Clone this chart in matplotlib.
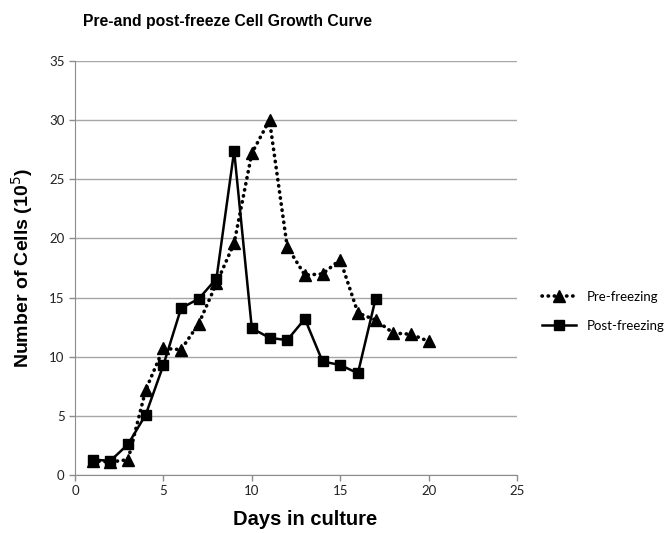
import matplotlib.pyplot as plt

# ── Data ─────────────────────────────────────────────────────────────────────
days_pre = [1, 2, 3, 4, 5, 6, 7, 8, 9, 10, 11, 12, 13, 14, 15, 16, 17, 18, 19, 20]
cells_pre = [1.2, 1.1, 1.3, 7.2, 10.7, 10.6, 12.8, 16.2, 19.6, 27.2, 30.0,
             19.3, 16.9, 17.0, 18.2, 13.7, 13.1, 12.0, 11.9, 11.3]

days_post = [1, 2, 3, 4, 5, 6, 7, 8, 9, 10, 11, 12, 13, 14, 15, 16, 17]
cells_post = [1.3, 1.2, 2.6, 5.1, 9.3, 14.1, 14.9, 16.6, 27.4, 12.4, 11.6,
              11.4, 13.2, 9.6, 9.3, 8.6, 14.9]

x_ticks = [0, 5, 10, 15, 20, 25]
y_ticks = [0, 5, 10, 15, 20, 25, 30, 35]

plt.rcParams["font.family"] = ["Liberation Sans", "DejaVu Sans"]
TICK_FONT = ["Lato", "DejaVu Sans"]

fig = plt.figure(figsize=(6.65, 5.33), dpi=100)
ax = fig.add_axes([0.1128, 0.1088, 0.6647, 0.7768])

ax.plot(days_pre, cells_pre, color="black", lw=2.6,
        linestyle=(0, (0.1, 1.6)), dash_capstyle="round",
        marker="^", markersize=9, label="Pre-freezing", zorder=3)
ax.plot(days_post, cells_post, color="black", lw=1.8, linestyle="-",
        marker="s", markersize=7.5, label="Post-freezing", zorder=4)

ax.set_xlim(0, 25)
ax.set_ylim(0, 35)
ax.set_xticks(x_ticks)
ax.set_yticks(y_ticks)
ax.grid(axis="y", color="#a6a6a6", lw=1)
ax.set_axisbelow(True)

for side in ("top", "right"):
    ax.spines[side].set_visible(False)
for side in ("left", "bottom"):
    ax.spines[side].set_color("#8c8c8c")
ax.tick_params(colors="#8c8c8c", labelcolor="#222222", labelsize=9.5,
               length=4, width=1)
for lbl in ax.get_xticklabels() + ax.get_yticklabels():
    lbl.set_family(TICK_FONT)

ax.set_xlabel("Days in culture", fontsize=14.5, fontweight="heavy")
ax.xaxis.set_label_coords(0.52, -0.085)
ax.set_ylabel("Number of Cells (10$^5$)", fontsize=14, fontweight="heavy")
ax.yaxis.set_label_coords(-0.09, 0.5)
fig.text(0.342, 0.959, "Pre-and post-freeze Cell Growth Curve",
         ha="center", va="center", fontsize=11.3, fontweight="bold")

leg = ax.legend(loc="center left", bbox_to_anchor=(1.03, 0.395), frameon=False,
                fontsize=9.5, handlelength=2.6, labelspacing=1.3)
for t in leg.get_texts():
    t.set_family(TICK_FONT)

fig.savefig("out.png", dpi=100, facecolor="white")
